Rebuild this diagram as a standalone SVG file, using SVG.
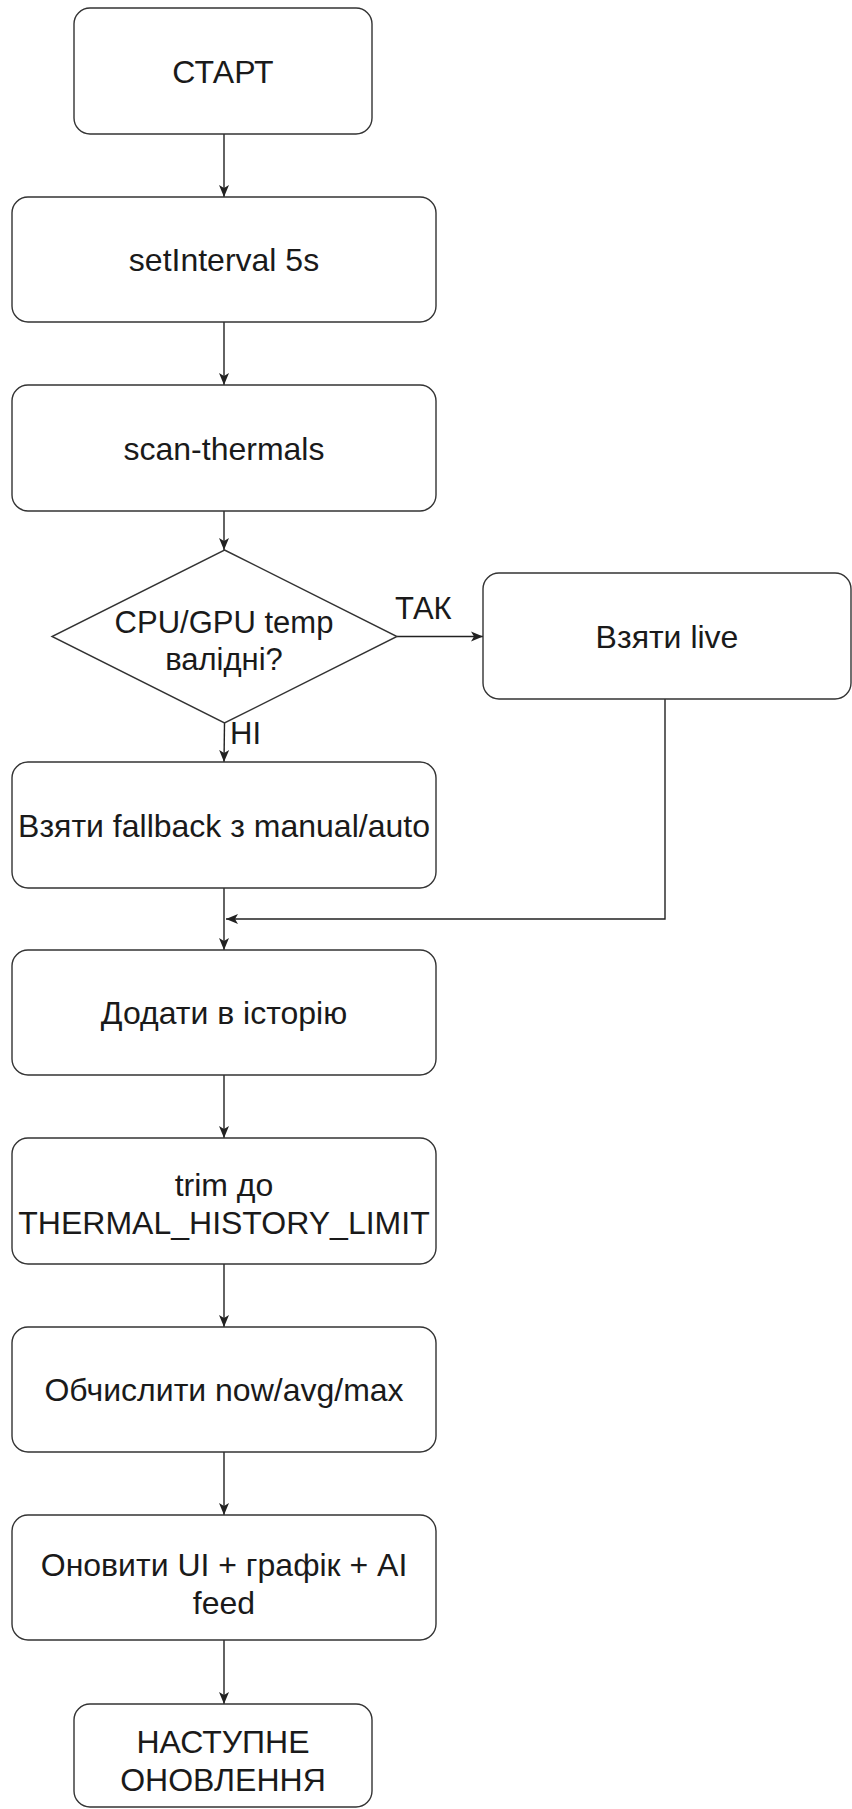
<svg xmlns="http://www.w3.org/2000/svg" width="852" height="1809" viewBox="0 0 852 1809">
  <defs>
    <marker id="arr" viewBox="0 0 12 12" refX="12" refY="6" markerWidth="12" markerHeight="12" markerUnits="userSpaceOnUse" orient="auto">
      <path d="M0,1 L12,6 L0,11 L3,6 z" fill="#222"/>
    </marker>
    <style>
      .box { fill: #ffffff; stroke: #333333; stroke-width: 1.4; }
      .t { font-family: "Liberation Sans", Arial, sans-serif; font-size: 32px; fill: #1a1a1a; text-anchor: middle; }
      .d { font-family: "Liberation Sans", Arial, sans-serif; font-size: 31px; fill: #1a1a1a; text-anchor: middle; }
      .lbl { font-family: "Liberation Sans", Arial, sans-serif; font-size: 31px; fill: #1a1a1a; text-anchor: start; }
      .edge { fill: none; stroke: #222222; stroke-width: 1.4; }
    </style>
  </defs>
  <rect x="0" y="0" width="852" height="1809" fill="#ffffff"/>

  <g id="connectors">
    <path class="edge" d="M224,134 L224,197" marker-end="url(#arr)"/>
    <path class="edge" d="M224,322 L224,385" marker-end="url(#arr)"/>
    <path class="edge" d="M224,511 L224,550" marker-end="url(#arr)"/>
    <path class="edge" d="M397,636.5 L483,636.5" marker-end="url(#arr)"/>
    <path class="edge" d="M224.5,723 L224,762" marker-end="url(#arr)"/>
    <path class="edge" d="M665,699 L665,919 L226,919" marker-end="url(#arr)"/>
    <path class="edge" d="M224,888 L224,950" marker-end="url(#arr)"/>
    <path class="edge" d="M224,1075 L224,1138" marker-end="url(#arr)"/>
    <path class="edge" d="M224,1264 L224,1327" marker-end="url(#arr)"/>
    <path class="edge" d="M224,1452 L224,1515" marker-end="url(#arr)"/>
    <path class="edge" d="M224,1640 L224,1704" marker-end="url(#arr)"/>
    <text class="lbl" x="395" y="619">ТАК</text>
    <text class="lbl" x="230" y="744">НІ</text>
  </g>

  <g id="start">
    <rect class="box" x="74" y="8" width="298" height="126" rx="16" ry="16"/>
    <text class="t" x="223" y="83">СТАРТ</text>
  </g>
  <g id="setinterval">
    <rect class="box" x="12" y="197" width="424" height="125" rx="16" ry="16"/>
    <text class="t" x="224" y="271">setInterval 5s</text>
  </g>
  <g id="scan">
    <rect class="box" x="12" y="385" width="424" height="126" rx="16" ry="16"/>
    <text class="t" x="224" y="460">scan-thermals</text>
  </g>
  <g id="decision">
    <polygon class="box" points="224.5,550 397,636.5 224.5,723 52,636.5"/>
    <text class="d" x="224" y="633">CPU/GPU temp</text>
    <text class="d" x="224" y="670">валідні?</text>
  </g>
  <g id="live">
    <rect class="box" x="483" y="573" width="368" height="126" rx="16" ry="16"/>
    <text class="t" x="667" y="648">Взяти live</text>
  </g>
  <g id="fallback">
    <rect class="box" x="12" y="762" width="424" height="126" rx="16" ry="16"/>
    <text class="t" x="224" y="837">Взяти fallback з manual/auto</text>
  </g>
  <g id="history">
    <rect class="box" x="12" y="950" width="424" height="125" rx="16" ry="16"/>
    <text class="t" x="224" y="1024">Додати в історію</text>
  </g>
  <g id="trim">
    <rect class="box" x="12" y="1138" width="424" height="126" rx="16" ry="16"/>
    <text class="t" x="224" y="1196">trim до</text>
    <text class="t" x="224" y="1234">THERMAL_HISTORY_LIMIT</text>
  </g>
  <g id="compute">
    <rect class="box" x="12" y="1327" width="424" height="125" rx="16" ry="16"/>
    <text class="t" x="224" y="1401">Обчислити now/avg/max</text>
  </g>
  <g id="update">
    <rect class="box" x="12" y="1515" width="424" height="125" rx="16" ry="16"/>
    <text class="t" x="224" y="1576">Оновити UI + графік + AI</text>
    <text class="t" x="224" y="1614">feed</text>
  </g>
  <g id="next">
    <rect class="box" x="74" y="1704" width="298" height="103" rx="16" ry="16"/>
    <text class="t" x="223" y="1753">НАСТУПНЕ</text>
    <text class="t" x="223" y="1791">ОНОВЛЕННЯ</text>
  </g>
</svg>
